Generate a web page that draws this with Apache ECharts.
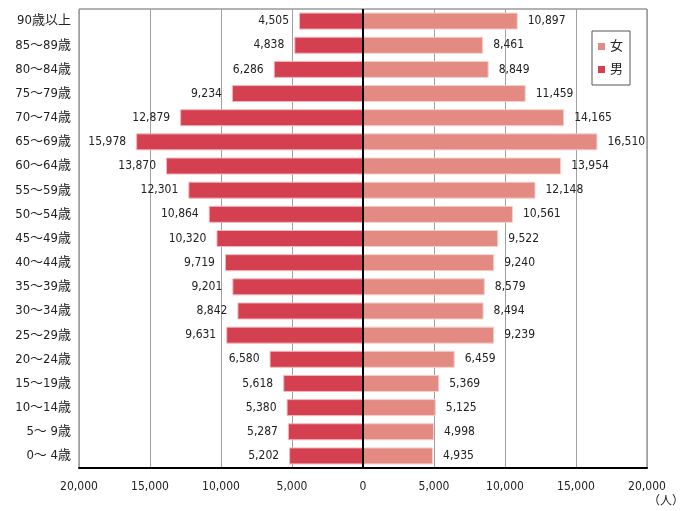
<!DOCTYPE html>
<html>
<head>
<meta charset="utf-8">
<script src="https://cdn.jsdelivr.net/npm/echarts@6/dist/echarts.min.js"></script>
<style>
html, body { margin: 0; padding: 0; background: #fff; }
#chart { width: 686px; height: 511px; }
</style>
</head>
<body>
<div id="chart"></div>
<script>
const ages = ['90歳以上', '85～89歳', '80～84歳', '75～79歳', '70～74歳', '65～69歳',
    '60～64歳', '55～59歳', '50～54歳', '45～49歳', '40～44歳', '35～39歳',
    '30～34歳', '25～29歳', '20～24歳', '15～19歳', '10～14歳', '5～ 9歳', '0～ 4歳'];
const male = [4505, 4838, 6286, 9234, 12879, 15978, 13870, 12301, 10864, 10320,
    9719, 9201, 8842, 9631, 6580, 5618, 5380, 5287, 5202];
const female = [10897, 8461, 8849, 11459, 14165, 16510, 13954, 12148, 10561, 9522,
    9240, 8579, 8494, 9239, 6459, 5369, 5125, 4998, 4935];

const font = '"DejaVu Sans Condensed", "Liberation Sans", "Noto Sans CJK JP", sans-serif';
const fmt = (v) => Math.abs(v).toLocaleString('en-US');

const chart = echarts.init(document.getElementById('chart'));
chart.setOption({
    animation: false,
    textStyle: { fontFamily: font },
    grid: {
        left: 79, right: 39, top: 9, bottom: 43,
        show: true,
        borderColor: '#666',
        borderWidth: 1,
    },
    legend: {
        data: ['女', '男'],
        orient: 'vertical',
        left: 592,
        top: 31,
        padding: [9, 7, 9, 6],
        itemGap: 10,
        itemWidth: 7,
        itemHeight: 7,
        icon: 'rect',
        itemStyle: { borderWidth: 0 },
        borderColor: '#555',
        borderWidth: 1,
        textStyle: { fontSize: 13, color: '#222', fontFamily: font },
    },
    xAxis: {
        type: 'value',
        min: -20000,
        max: 20000,
        interval: 5000,
        axisLine: { show: true, onZero: false, lineStyle: { color: '#000', width: 2 } },
        axisTick: { show: false },
        splitLine: { lineStyle: { color: '#a0a0a0', width: 1 } },
        axisLabel: {
            formatter: fmt,
            fontSize: 12,
            color: '#222',
            margin: 13,
        },
    },
    yAxis: {
        type: 'category',
        data: ages,
        inverse: true,
        axisLine: { show: false, onZero: false },
        axisTick: { show: false },
        axisLabel: { fontSize: 13, color: '#222', margin: 8 },
    },
    graphic: [{
        type: 'text',
        left: 648,
        top: 496,
        style: { text: '（人）', fontSize: 12, fill: '#222', fontFamily: font },
    }],
    series: [
        {
            name: '男',
            type: 'bar',
            data: male.map(v => -v),
            barWidth: 17,
            barGap: '-100%',
            itemStyle: { color: '#d4404f', borderColor: '#f2b8bd', borderWidth: 1 },
            label: {
                show: true,
                position: 'left',
                distance: 10,
                formatter: (p) => fmt(p.value),
                fontSize: 12,
                color: '#222',
            },
            markLine: {
                silent: true,
                symbol: 'none',
                label: { show: false },
                lineStyle: { color: '#000', width: 2, type: 'solid' },
                data: [{ xAxis: 0 }],
            },
        },
        {
            name: '女',
            type: 'bar',
            data: female,
            barWidth: 17,
            itemStyle: { color: '#e38a82', borderColor: '#f6cfcb', borderWidth: 1 },
            label: {
                show: true,
                position: 'right',
                distance: 10,
                formatter: (p) => fmt(p.value),
                fontSize: 12,
                color: '#222',
            },
        },
    ],
});
</script>
</body>
</html>
